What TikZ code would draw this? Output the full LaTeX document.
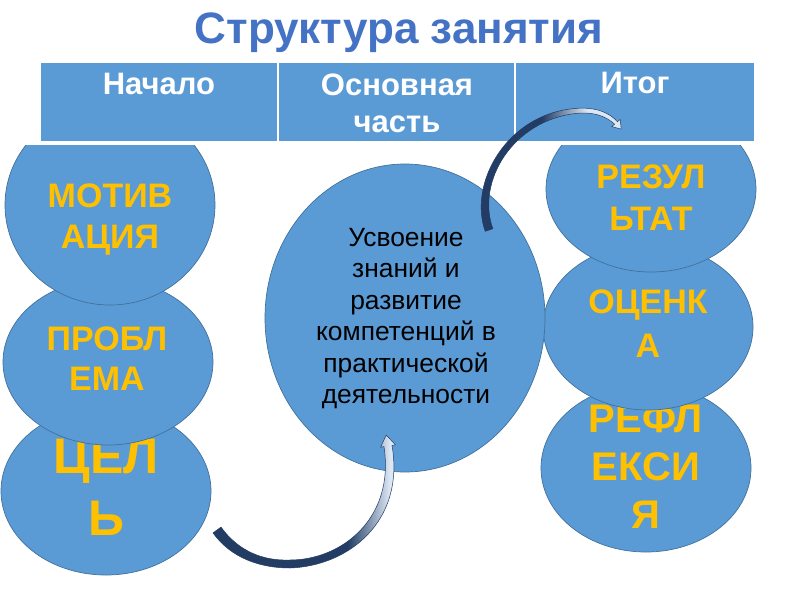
\documentclass[tikz,border=0pt]{standalone}
\usepackage{fontspec}
\setmainfont{Liberation Sans}
\usetikzlibrary{shapes.geometric}
\definecolor{tblue}{RGB}{91,155,213}
\definecolor{eborder}{RGB}{65,113,156}
\definecolor{gold}{RGB}{255,192,0}
\definecolor{titleblue}{RGB}{68,114,196}
\definecolor{arrdark}{RGB}{34,60,100}
\definecolor{arrlight}{RGB}{220,231,244}
\pgfdeclarehorizontalshading{arrowA}{100bp}{color(0bp)=(arrdark); color(25bp)=(arrdark); color(60bp)=(arrdark); color(71bp)=(arrlight); color(100bp)=(arrlight)}
\pgfdeclarehorizontalshading{arrowB}{100bp}{color(0bp)=(arrdark); color(25bp)=(arrdark); color(49bp)=(arrdark); color(64bp)=(arrlight); color(100bp)=(arrlight)}
\newcommand\ctrlines[1]{\vtop{\halign{\hfil##\hfil\cr#1\crcr}}}
\tikzset{
  bubble/.style={ellipse, draw=eborder, line width=0.7pt, fill=tblue, inner sep=0pt, minimum width=210pt, minimum height=166pt},
  goldtxt/.style={text=gold, inner sep=0pt, anchor=base},
  cell/.style={rectangle, draw=white, line width=1.5pt, fill=tblue, minimum height=80pt, inner sep=0pt},
  headtxt/.style={text=white, inner sep=0pt, anchor=base, font=\bfseries\fontsize{31}{37}\selectfont},
  blockarrow/.style={shade, draw=arrdark, line width=0.5pt}
}
\begin{document}
\begin{tikzpicture}[x=1pt,y=-1pt]
\useasboundingbox (0,0) rectangle (800,600);
\fill[white] (0,0) rectangle (800,600);

% left bubbles
\node[bubble, minimum height=168pt] (cel) at (106,491) {};
\node[goldtxt, font=\bfseries\fontsize{50}{62}\selectfont] (celtxt) at (106,473) {\ctrlines{ЦЕЛ\cr Ь}};
\node[bubble] (probl) at (108,362) {};
\node[goldtxt, font=\bfseries\fontsize{34}{40}\selectfont] (probltxt) at (107,350) {\ctrlines{ПРОБЛ\cr ЕМА}};
\node[bubble, minimum height=200pt] (motiv) at (110,205) {};
\node[goldtxt, font=\bfseries\fontsize{34}{41}\selectfont] (motivtxt) at (110,207) {\ctrlines{МОТИВ\cr АЦИЯ}};

% right bubbles
\node[bubble, minimum height=168pt] (refl) at (646,468) {};
\node[goldtxt, font=\bfseries\fontsize{40}{48}\selectfont] (refltxt) at (646,432) {\ctrlines{РЕФЛ\cr ЕКСИ\cr Я}};
\node[bubble] (ocen) at (648,327) {};
\node[goldtxt, font=\bfseries\fontsize{34}{44}\selectfont] (ocentxt) at (648,313) {\ctrlines{ОЦЕНК\cr А}};
\node[bubble] (rez) at (651,189) {};
\node[goldtxt, font=\bfseries\fontsize{34}{42}\selectfont] (reztxt) at (651,188) {\ctrlines{РЕЗУЛ\cr ЬТАТ}};

% central bubble
\node[bubble, minimum width=280pt, minimum height=308pt] (core) at (405,318) {};
\node[inner sep=0pt, anchor=base, font=\fontsize{26.4}{31.5}\selectfont] (coretxt) at (406,246)
  {\ctrlines{Усвоение\cr знаний и\cr развитие\cr компетенций в\cr практической\cr деятельности}};

% white band that cuts the bubbles flat under the table
\fill[white] (0,0) rectangle (800,145);

% title
\node[text=titleblue, inner sep=0pt, anchor=base, font=\bfseries\fontsize{44}{50}\selectfont] (title) at (399,43) {Структура занятия};

% header table
\node[cell, minimum width=238pt] (hstart) at (159,102) {};
\node[cell, minimum width=237pt] (hmain) at (396.5,102) {};
\node[cell, minimum width=240pt] (hend) at (635,102) {};
\node[headtxt] (hstarttxt) at (159,94) {Начало};
\node[headtxt] (hmaintxt) at (397,95) {\ctrlines{Основная\cr часть}};
\node[headtxt] (hendtxt) at (635,93) {Итог};

% curved arrow: ЦЕЛЬ -> central bubble
\coordinate (a1start) at (217,530);
\coordinate (a1tip) at (386.2,435.1);
\path[blockarrow, shading=arrowA]
  (213,532.9) .. controls (231,558) and (260,568) .. (290,568)
  .. controls (349,566) and (405,521) .. (392,445.4)
  -- (395.4,444.8) -- (a1tip) -- (380.6,447.2) -- (384,446.6)
  .. controls (395,519) and (341,560) .. (290,560)
  .. controls (264,561) and (239,552) .. (221,527.1) -- cycle;

% curved arrow: central bubble -> Итог
\coordinate (a2start) at (489,230);
\coordinate (a2tip) at (621.2,129.1);
\path[blockarrow, shading=arrowB]
  (485.2,231.3) .. controls (468,183) and (507,114) .. (574.7,108.5)
  .. controls (596,106.5) and (610,113) .. (617.4,121.8)
  -- (620.2,119.4) -- (a2tip) -- (611.8,126.6) -- (614.6,124.2)
  .. controls (606,116.5) and (595,111.5) .. (575.3,113.5)
  .. controls (513,121) and (476,181) .. (492.8,228.7) -- cycle;
\end{tikzpicture}
\end{document}
